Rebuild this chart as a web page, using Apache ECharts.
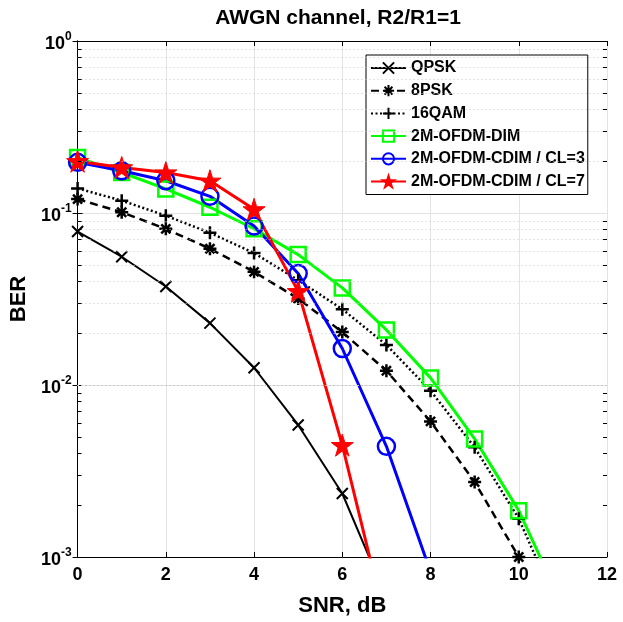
<!DOCTYPE html>
<html><head><meta charset="utf-8">
<script src="https://cdn.jsdelivr.net/npm/echarts@6/dist/echarts.min.js"></script>
<style>html,body{margin:0;padding:0;background:#fff}#c{width:623px;height:622px}</style>
</head><body><div id="c"></div>
<script>
const snr = [0, 1, 2, 3, 4, 5, 6, 7, 8, 9, 10, 11];
const qpsk  = [0.078, 0.0557, 0.0374, 0.0229, 0.0126, 0.00586, 0.00234, 0.00058];
const psk8  = [0.1205, 0.101, 0.0809, 0.062, 0.0455, 0.0318, 0.0203, 0.0121, 0.00614, 0.00273, 0.001];
const qam16 = [0.139, 0.118, 0.0965, 0.0767, 0.0585, 0.0407, 0.0276, 0.0171, 0.00927, 0.00434, 0.00167, 0.00044];
const dim   = [0.21, 0.172, 0.138, 0.108, 0.081, 0.0573, 0.0367, 0.0209, 0.011, 0.00486, 0.00186, 0.000516];
const cdim3 = [0.197, 0.176, 0.154, 0.125, 0.084, 0.0445, 0.0163, 0.0044, 0.00082];
const cdim7 = [0.2, 0.184, 0.172, 0.154, 0.105, 0.0351, 0.00447, 0.0004];
const names = ['QPSK', '8PSK', '16QAM', '2M-OFDM-DIM', '2M-OFDM-CDIM / CL=3', '2M-OFDM-CDIM / CL=7'];
const xTicks = [0, 2, 4, 6, 8, 10, 12];
const yTicks = [0.001, 0.01, 0.1, 1];
const yMinor = [0.002,0.003,0.004,0.005,0.006,0.007,0.008,0.009,
                0.02,0.03,0.04,0.05,0.06,0.07,0.08,0.09,
                0.2,0.3,0.4,0.5,0.6,0.7,0.8,0.9];

const font = '"Liberation Sans", Arial, Helvetica, sans-serif';
const pts = (ys) => ys.map((v, i) => [snr[i], v]);

const SYM_X = 'path://M0,0L10,10M10,0L0,10';
const SYM_AST = 'path://M5,0L5,10M0,5L10,5M1.5,1.5L8.5,8.5M8.5,1.5L1.5,8.5';
const SYM_PLUS = 'path://M5,0L5,10M0,5L10,5';
const SYM_STAR = 'path://M50,0L61.2,34.5L97.6,34.5L68.2,55.9L79.4,90.5L50,69.1L20.6,90.5L31.8,55.9L2.4,34.5L38.8,34.5Z';

const tickLen = 0.09;
const minorTickData = [];
yMinor.forEach(v => {
  minorTickData.push([{coord: [0, v]}, {coord: [tickLen, v]}]);
  minorTickData.push([{coord: [12 - tickLen, v]}, {coord: [12, v]}]);
});

function mk(name, data, color, sym, size, lineType, lw, fill, bw) {
  return {
    name, type: 'line', data: pts(data), z: 3,
    symbol: sym, symbolSize: size, showSymbol: true,
    lineStyle: {color, width: lw, type: lineType},
    itemStyle: {color: fill, borderColor: color, borderWidth: bw},
    emphasis: {disabled: true}
  };
}

const chart = echarts.init(document.getElementById('c'), null, {renderer: 'canvas'});
const axisLineStyle = {show: true, lineStyle: {color: '#000', width: 1}};
const yLabelFmt = v => '{b|10}{s|' + Math.round(Math.log10(v)) + '}';

chart.setOption({
  animation: false,
  backgroundColor: '#fff',
  textStyle: {fontFamily: font},
  title: {
    text: 'AWGN channel, R2/R1=1', left: 338, top: 8, padding: 0, textAlign: 'center',
    textStyle: {fontSize: 21, fontWeight: 'bold', color: '#000', fontFamily: font}
  },
  grid: {left: 72, right: 16, top: 41, bottom: 61, containLabel: false},
  legend: {
    orient: 'vertical', left: 366, top: 55, padding: [5, 3, 5, 4],
    itemGap: 6.7, itemWidth: 35, itemHeight: 14,
    backgroundColor: '#fff', borderColor: '#000', borderWidth: 1, borderRadius: 0,
    textStyle: {fontSize: 16, lineHeight: 16, fontWeight: 'bold', color: '#000', fontFamily: font},
    data: names
  },
  xAxis: [{
    type: 'value', min: 0, max: 12, interval: 2,
    name: 'SNR, dB', nameLocation: 'middle', nameGap: 38,
    nameTextStyle: {fontSize: 22, fontWeight: 'bold', color: '#000', fontFamily: font},
    axisLine: axisLineStyle,
    axisTick: {show: true, inside: true, length: 5, lineStyle: {color: '#000'}},
    axisLabel: {fontSize: 18, fontWeight: 'bold', color: '#000', margin: 9, fontFamily: font},
    splitLine: {show: true, lineStyle: {color: '#e3e3e3', width: 1}}
  }, {
    type: 'value', position: 'top', min: 0, max: 12, interval: 2,
    axisLine: axisLineStyle,
    axisTick: {show: true, inside: true, length: 5, lineStyle: {color: '#000'}},
    axisLabel: {show: false}, splitLine: {show: false}
  }],
  yAxis: [{
    type: 'log', logBase: 10, min: yTicks[0], max: yTicks[yTicks.length - 1],
    name: 'BER', nameLocation: 'middle', nameGap: 38,
    nameTextStyle: {fontSize: 22, fontWeight: 'bold', color: '#000', fontFamily: font},
    axisLine: axisLineStyle,
    axisTick: {show: true, inside: true, length: 5, lineStyle: {color: '#000'}},
    axisLabel: {
      formatter: yLabelFmt, margin: 6,
      rich: {
        b: {fontSize: 18, fontWeight: 'bold', color: '#000', fontFamily: font, padding: [6, 0, 0, 0]},
        s: {fontSize: 12, fontWeight: 'bold', color: '#000', fontFamily: font, padding: [0, 0, 8, 0]}
      }
    },
    splitLine: {show: true, lineStyle: {color: '#e3e3e3', width: 1}}
  }, {
    type: 'log', logBase: 10, min: yTicks[0], max: yTicks[yTicks.length - 1], position: 'right',
    axisLine: axisLineStyle,
    axisTick: {show: true, inside: true, length: 5, lineStyle: {color: '#000'}},
    axisLabel: {show: false}, splitLine: {show: false}
  }],
  series: [
    {
      name: '_grid', type: 'line', data: [], z: 1, silent: true,
      markLine: {
        silent: true, symbol: ['none', 'none'], label: {show: false}, animation: false,
        lineStyle: {color: '#c8c8c8', type: [1, 3], width: 1},
        emphasis: {disabled: true},
        data: yMinor.map(v => ({yAxis: v}))
      }
    },
    {
      name: '_ticks', type: 'line', data: [], z: 4, silent: true,
      markLine: {
        silent: true, symbol: ['none', 'none'], label: {show: false}, animation: false,
        lineStyle: {color: '#000', type: 'solid', width: 1},
        emphasis: {disabled: true},
        data: minorTickData
      }
    },
    mk(names[0], qpsk, '#000', SYM_X, 11, 'solid', 2, '#000', 2),
    mk(names[1], psk8, '#000', SYM_AST, 13, [8, 5], 2.5, '#000', 2.5),
    mk(names[2], qam16, '#000', SYM_PLUS, 13, [2, 2.5], 2.5, '#000', 2.5),
    mk(names[3], dim, '#00ff00', 'rect', 15, 'solid', 3, 'rgba(0,0,0,0)', 2.5),
    mk(names[4], cdim3, '#0000ff', 'circle', 17, 'solid', 3, 'rgba(0,0,0,0)', 2.5),
    mk(names[5], cdim7, '#ff0000', SYM_STAR, 22, 'solid', 3, '#ff0000', 1)
  ]
});
</script>
</body></html>
